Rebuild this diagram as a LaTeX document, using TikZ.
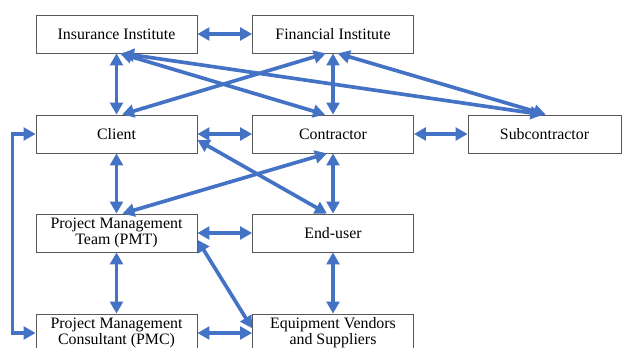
\documentclass[tikz,border=0pt]{standalone}
\usepackage{fontspec}
\setmainfont{Liberation Serif}
\usetikzlibrary{arrows.meta,positioning}
\definecolor{linkblue}{RGB}{68,114,196}

\begin{document}
\begin{tikzpicture}[
    >={Triangle[length=3mm,width=3.2mm]},
    actor/.style={
        rectangle,
        draw=gray!70!black,
        line width=0.6pt,
        fill=white,
        minimum width=4.025cm,
        minimum height=0.95cm,
        inner sep=1pt,
        font=\fontsize{11.3}{11.6}\selectfont,
        align=center
    },
    link/.style={<->,line width=2.6pt,draw=linkblue}
]
\useasboundingbox (0,0) rectangle (15.55,8.675);

% Institutes
\node[actor] (insurance) at (2.9125,7.825) {Insurance Institute};
\node[actor] (financial) at (8.325,7.825) {Financial Institute};

% Main parties
\node[actor] (client) at (2.9125,5.325) {Client};
\node[actor] (contractor) at (8.325,5.325) {Contractor};
\node[actor,minimum width=3.825cm] (sub) at (13.6125,5.325) {Subcontractor};

% Project side
\node[actor] (pmt) at (2.9125,2.85) {Project Management\\Team (PMT)};
\node[actor] (enduser) at (8.325,2.85) {End-user};
\node[actor] (pmc) at (2.9125,0.35) {Project Management\\Consultant (PMC)};
\node[actor] (equipment) at (8.325,0.35) {Equipment Vendors\\and Suppliers};

% Straight links
\draw[link] (insurance) -- (financial);
\draw[link] (insurance) -- (client);
\draw[link] (financial) -- (contractor);
\draw[link] (client) -- (contractor);
\draw[link] (contractor) -- (sub);
\draw[link] (client) -- (pmt);
\draw[link] (contractor) -- (enduser);
\draw[link] (pmt) -- (enduser);
\draw[link] (pmt) -- (pmc);
\draw[link] (enduser) -- (equipment);
\draw[link] (pmc) -- (equipment);

% Cross links
\draw[link] ([xshift=0.09cm]insurance.south) -- ([xshift=-0.2cm]contractor.north);
\draw[link] ([xshift=0.14cm]insurance.south) -- ([xshift=-0.05cm]sub.north);
\draw[link] ([xshift=-0.18cm]financial.south) -- ([xshift=0.14cm]client.north);
\draw[link] ([xshift=0.12cm]financial.south) -- ([xshift=0.03cm]sub.north);
\draw[link] ([yshift=-0.15cm]client.east) -- ([xshift=-0.15cm]enduser.north);
\draw[link] ([xshift=-0.15cm]contractor.south) -- ([xshift=0.15cm]pmt.north);
\draw[link] ([yshift=-0.17cm]pmt.east) -- ([yshift=0.12cm]equipment.west);

% Client to consultant loop
\draw[link] (client.west) -- ++(-0.575,0) |- (pmc.west);

\end{tikzpicture}
\end{document}
